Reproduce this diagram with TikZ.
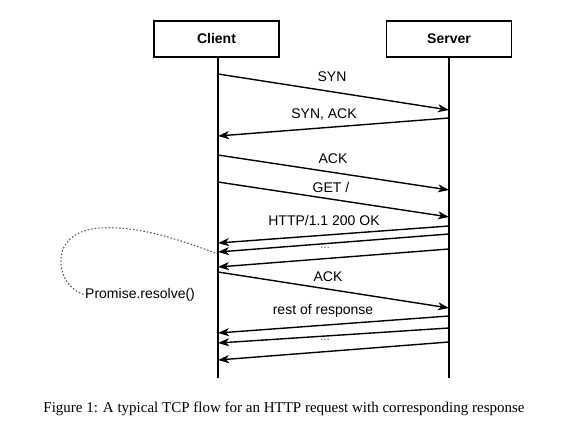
\documentclass[tikz,border=0pt]{standalone}
\usepackage{fontspec}
\setmainfont{Liberation Serif}
\setsansfont{Liberation Sans}
\usetikzlibrary{arrows.meta}
\begin{document}
\begin{tikzpicture}[x=1pt,y=-1pt,
  actor/.style={draw,line width=1.4pt,minimum width=125pt,minimum height=36pt,inner sep=0pt,font=\sffamily\bfseries\fontsize{14}{16}\selectfont},
  life/.style={line width=1.4pt},
  msg/.style={line width=1.4pt,-{Stealth[length=11pt,width=8pt,inset=3pt]}},
  lbl/.style={font=\sffamily\fontsize{14}{16}\selectfont,inner sep=0pt},
  dots/.style={font=\sffamily\fontsize{12}{14}\selectfont,text=black!60,inner sep=0pt},
  promise/.style={draw=black!70,line width=1pt,dash pattern=on 1.5pt off 2pt}]
\useasboundingbox (0,0) rectangle (568,435);
\node[actor] (client) at (216.5,39) {Client};
\node[actor] (server) at (449,39) {Server};
\coordinate (cend) at (218,378);
\coordinate (send) at (449,378);
\draw[life] (client.south -| cend) -- (cend);
\draw[life] (server.south) -- (send);
% lifeline points
\foreach \n/\y in {c1/74,c2/136,c3/155,c4/182,c5/243,c6/252,c7/267,c8/272,c9/333,c10/343,c11/360}
  \coordinate (\n) at (218,\y);
\foreach \n/\y in {s1/110,s2/118,s3/190,s4/217,s5/226,s6/234,s7/249,s8/308,s9/316,s10/328,s11/342}
  \coordinate (\n) at (449,\y);
\draw[msg] (c1) -- (s1);
\draw[msg] (s2) -- (c2);
\draw[msg] (c3) -- (s3);
\draw[msg] (c4) -- (s4);
\draw[msg] (s5) -- (c5);
\draw[msg] (s6) -- (c6);
\draw[msg] (s7) -- (c7);
\draw[msg] (c8) -- (s8);
\draw[msg] (s9) -- (c9);
\draw[msg] (s10) -- (c10);
\draw[msg] (s11) -- (c11);
\node[lbl] (l1) at (332,77) {SYN};
\node[lbl] (l2) at (324,115) {SYN, ACK};
\node[lbl] (l3) at (333,159) {ACK};
\node[lbl] (l4) at (331,187) {GET /};
\node[lbl] (l5) at (324,220) {HTTP/1.1 200 OK};
\node[dots] (d1) at (325,248) {...};
\node[lbl] (l6) at (328,277) {ACK};
\node[lbl] (l7) at (323,311) {rest of response};
\node[dots] (d2) at (325,340) {...};
\node[lbl,anchor=west] (pr) at (85,295) {Promise.resolve()};
\coordinate (pstart) at (215,253);
\draw[promise] (pstart) .. controls (170,236) and (135,226) .. (100,228)
  .. controls (72,230) and (60,245) .. (61,263)
  .. controls (62,281) and (74,292) .. (pr.west);
\node[font=\fontsize{15}{18}\selectfont,inner sep=0pt] (cap) at (284,409) {Figure 1: A typical TCP flow for an HTTP request with corresponding response};
\end{tikzpicture}
\end{document}
